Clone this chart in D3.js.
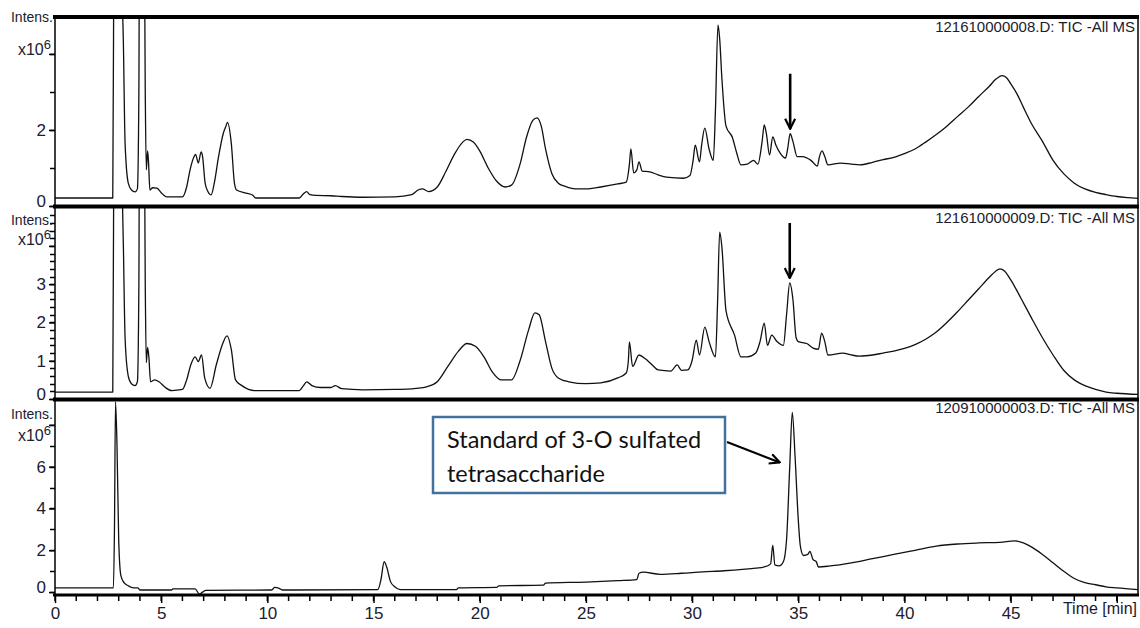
<!DOCTYPE html>
<html lang="en">
<head>
<meta charset="UTF-8">
<title>TIC chromatograms</title>
<script src="https://d3js.org/d3.v7.min.js"></script>
<style>
  body { margin: 0; background: #fff; }
</style>
</head>
<body>
<svg width="1140" height="628"></svg>
<script>
// time [min], intensity [x10^6]
let trace1 = [
  [0, 0.21], [2.72, 0.21], [2.78, 8], [2.85, 12], [3.05, 12], [3.15, 6], [3.22, 4.3], [3.3, 1.66], [3.45, 0.6],
  [3.6, 0.42], [3.77, 0.37], [3.88, 0.45], [3.95, 3], [4.0, 12], [4.15, 12], [4.25, 3], [4.3, 0.95], [4.36, 1.45],
  [4.4, 1.2], [4.47, 0.42], [4.6, 0.48], [4.8, 0.47], [5.0, 0.35], [5.27, 0.24], [6.0, 0.24], [6.2, 0.5],
  [6.36, 0.95], [6.55, 1.3], [6.62, 1.36], [6.75, 1.13], [6.88, 1.42], [6.95, 1.3], [7.07, 0.6], [7.2, 0.38],
  [7.35, 0.29], [7.5, 0.6], [7.7, 1.29], [7.93, 1.92], [8.05, 2.1], [8.12, 2.2], [8.3, 1.66], [8.45, 0.6],
  [8.55, 0.42], [9.0, 0.34], [9.3, 0.29], [9.45, 0.21], [11.5, 0.21], [11.7, 0.32], [11.85, 0.38], [12.0, 0.3],
  [12.3, 0.28], [13.0, 0.27], [13.5, 0.25], [14.5, 0.23], [16.0, 0.24], [16.8, 0.3], [17.1, 0.42], [17.3, 0.45],
  [17.6, 0.38], [18.0, 0.5], [18.4, 0.9], [18.8, 1.35], [19.2, 1.68], [19.4, 1.75], [19.7, 1.68], [20.0, 1.45],
  [20.4, 1.0], [20.8, 0.65], [21.2, 0.5], [21.5, 0.55], [21.9, 1.1], [22.2, 1.8], [22.5, 2.25], [22.7, 2.32],
  [22.9, 2.1], [23.1, 1.5], [23.4, 0.85], [23.7, 0.6], [24.0, 0.52], [24.5, 0.45], [25.0, 0.45], [25.7, 0.5],
  [26.5, 0.58], [26.9, 0.63], [27.05, 1.1], [27.12, 1.5], [27.25, 0.87], [27.4, 0.95], [27.5, 1.16], [27.65, 0.92],
  [28.0, 0.9], [28.4, 0.82], [28.8, 0.76], [29.6, 0.73], [29.9, 0.8], [30.05, 1.2], [30.15, 1.6], [30.35, 1.16],
  [30.45, 1.6], [30.6, 2.05], [30.8, 1.5], [31.0, 1.2], [31.1, 2.5], [31.22, 4.76], [31.3, 4.4], [31.4, 3.4],
  [31.6, 2.1], [31.9, 1.8], [32.1, 1.4], [32.3, 1.08], [32.6, 1.1], [32.9, 1.2], [33.1, 1.1], [33.3, 1.7],
  [33.4, 2.13], [33.5, 1.9], [33.65, 1.34], [33.8, 1.82], [33.95, 1.6], [34.15, 1.39], [34.4, 1.26], [34.5, 1.5],
  [34.62, 1.9], [34.75, 1.7], [34.95, 1.3], [35.2, 1.3], [35.6, 1.2], [35.9, 1.05], [36.0, 1.3], [36.12, 1.45],
  [36.25, 1.3], [36.4, 1.08], [37.0, 1.13], [37.5, 1.1], [37.9, 1.08], [38.5, 1.15], [39.0, 1.22], [39.5, 1.28],
  [40.0, 1.38], [40.5, 1.5], [41.0, 1.68], [41.5, 1.88], [42.0, 2.1], [42.5, 2.35], [43.0, 2.6], [43.5, 2.88],
  [44.0, 3.15], [44.3, 3.33], [44.6, 3.43], [44.8, 3.38], [45.0, 3.22], [45.3, 2.95], [45.6, 2.6], [46.0, 2.15],
  [46.5, 1.7], [47.0, 1.2], [47.5, 0.85], [48.0, 0.6], [48.5, 0.45], [49.0, 0.36], [49.5, 0.3], [50.0, 0.25],
  [50.5, 0.22], [51, 0.2]
]
let trace2 = [
  [0, 0.18], [2.72, 0.18], [2.78, 8], [2.85, 12], [3.05, 12], [3.15, 6], [3.22, 4], [3.3, 1.6], [3.45, 0.6],
  [3.6, 0.4], [3.77, 0.35], [3.88, 0.45], [3.95, 3], [4.0, 12], [4.15, 12], [4.25, 3], [4.3, 0.95], [4.36, 1.35],
  [4.42, 1.1], [4.5, 0.45], [4.7, 0.5], [4.9, 0.45], [5.2, 0.3], [5.5, 0.22], [6.0, 0.25], [6.2, 0.5], [6.4, 0.9],
  [6.6, 1.1], [6.75, 0.98], [6.9, 1.15], [7.05, 0.55], [7.3, 0.28], [7.6, 0.9], [7.9, 1.45], [8.1, 1.65],
  [8.3, 1.3], [8.5, 0.5], [8.8, 0.35], [9.4, 0.22], [11.5, 0.22], [11.7, 0.35], [11.85, 0.45], [12.1, 0.35],
  [12.5, 0.3], [13.0, 0.3], [13.2, 0.35], [13.5, 0.27], [14.5, 0.24], [16.0, 0.25], [17.0, 0.28], [17.5, 0.32],
  [18.0, 0.45], [18.5, 0.85], [19.0, 1.25], [19.4, 1.45], [19.8, 1.38], [20.2, 1.1], [20.6, 0.7], [21.0, 0.5],
  [21.5, 0.5], [21.9, 1.0], [22.3, 1.8], [22.6, 2.25], [22.8, 2.2], [23.1, 1.5], [23.4, 0.8], [23.7, 0.55],
  [24.2, 0.45], [25.0, 0.4], [25.7, 0.42], [26.5, 0.55], [26.9, 0.68], [27.0, 1.0], [27.05, 1.49], [27.2, 0.85],
  [27.5, 1.15], [27.8, 1.05], [28.1, 0.9], [28.4, 0.76], [29.0, 0.73], [29.3, 0.89], [29.5, 0.75], [29.8, 0.76],
  [30.0, 1.0], [30.2, 1.54], [30.35, 1.15], [30.6, 1.88], [30.8, 1.5], [31.1, 1.1], [31.2, 2.5], [31.3, 4.36],
  [31.4, 4.0], [31.6, 2.3], [32.0, 1.67], [32.3, 1.1], [32.6, 1.1], [33.0, 1.2], [33.2, 1.5], [33.4, 1.98],
  [33.55, 1.4], [33.75, 1.67], [34.0, 1.5], [34.3, 1.4], [34.45, 2.2], [34.6, 3.03], [34.75, 2.6], [34.9, 1.6],
  [35.0, 1.5], [35.4, 1.45], [35.7, 1.33], [35.95, 1.3], [36.1, 1.72], [36.25, 1.5], [36.4, 1.15], [37.1, 1.2],
  [37.5, 1.15], [37.9, 1.12], [38.5, 1.15], [39.0, 1.2], [39.5, 1.25], [40.0, 1.32], [40.5, 1.42], [41.0, 1.56],
  [41.5, 1.75], [42.0, 2.0], [42.5, 2.28], [43.0, 2.58], [43.5, 2.88], [44.0, 3.18], [44.3, 3.34], [44.5, 3.4],
  [44.7, 3.35], [45.0, 3.12], [45.5, 2.62], [46.0, 2.1], [46.5, 1.6], [47.0, 1.15], [47.5, 0.75], [48.0, 0.5],
  [48.5, 0.35], [49.0, 0.25], [49.5, 0.18], [50.0, 0.15], [51, 0.12]
]
let trace3 = [
  [0, 0.2], [2.75, 0.2], [2.8, 3], [2.85, 9.1], [2.92, 7], [3.0, 2.5], [3.1, 0.8], [3.25, 0.45], [3.45, 0.3],
  [3.7, 0.2], [3.9, 0.2], [4.0, 0.1], [5.5, 0.1], [5.55, 0.15], [6.6, 0.15], [6.8, -0.1], [6.95, 0.0], [7.1, 0.08],
  [10.2, 0.1], [10.35, 0.22], [10.55, 0.18], [10.7, 0.1], [15.2, 0.12], [15.35, 0.6], [15.5, 1.45], [15.62, 1.2],
  [15.8, 0.5], [16.0, 0.25], [16.25, 0.12], [18.9, 0.12], [19.0, 0.2], [20.8, 0.22], [20.9, 0.3], [23.0, 0.33],
  [23.1, 0.43], [25.0, 0.48], [26.5, 0.55], [27.4, 0.6], [27.5, 0.9], [27.7, 0.95], [28.5, 0.85], [29.5, 0.9],
  [30.5, 0.97], [31.5, 1.02], [32.5, 1.1], [33.0, 1.15], [33.4, 1.2], [33.7, 1.35], [33.8, 2.25], [33.9, 1.3],
  [34.1, 1.25], [34.3, 1.45], [34.45, 2.5], [34.6, 6.0], [34.72, 8.6], [34.85, 6.5], [35.0, 3.5], [35.1, 2.2],
  [35.25, 1.75], [35.45, 1.8], [35.55, 1.95], [35.7, 1.55], [35.85, 1.45], [35.95, 1.2], [36.5, 1.25], [37.5, 1.4],
  [38.5, 1.6], [39.5, 1.8], [40.5, 2.0], [41.5, 2.2], [42.5, 2.3], [43.5, 2.35], [44.5, 2.38], [45.2, 2.45],
  [45.6, 2.35], [46.0, 2.15], [46.5, 1.8], [47.0, 1.4], [47.5, 1.0], [48.0, 0.65], [48.5, 0.45], [49.0, 0.35],
  [49.5, 0.25], [50.0, 0.2], [51, 0.12]
]
let traceNames = ['121610000008.D: TIC -All MS', '121610000009.D: TIC -All MS', '120910000003.D: TIC -All MS']
let xTicks = [0, 5, 10, 15, 20, 25, 30, 35, 40, 45, 50]
let yTicks1 = [0, 2, 4]
let yTicks2 = [0, 1, 2, 3, 4]
let yTicks3 = [0, 2, 4, 6, 8]
let arrowPeaks = [[34.62, 1.9], [34.6, 3.03]]
let noteLines = ['Standard of 3-O sulfated', 'tetrasaccharide']
let notePeak = [34.6, 6.2]

let svg = d3.select('svg')
let narrow = '"Liberation Sans Narrow", "Arial Narrow", sans-serif'
let inkText = '#1b2030'

let x = d3.scaleLinear().domain([0, 51]).range([55, 1138])

let panels = [
  { data: trace1, ticks: yTicks1, minor: d3.range(0, 4.5, 1), y: d3.scaleLinear().domain([0, 4.97]).range([206, 17]),
    top: 17, bottom: 206, intensY: 22, expY: 55, nameY: 32 },
  { data: trace2, ticks: yTicks2, minor: d3.range(0, 4.9, 0.2), y: d3.scaleLinear().domain([0, 4.99]).range([399, 208]),
    top: 208, bottom: 399, intensY: 225, expY: 245, nameY: 223 },
  { data: trace3, ticks: yTicks3, minor: d3.range(0, 8.5, 1), y: d3.scaleLinear().domain([-0.14, 9.14]).range([595, 401]),
    top: 401, bottom: 595, intensY: 419, expY: 441, nameY: 413 }
]

let defs = svg.append('defs')
defs.append('marker').attr('id', 'vhead').attr('viewBox', '0 0 12 12').attr('refX', 11).attr('refY', 6)
  .attr('markerWidth', 12).attr('markerHeight', 12).attr('markerUnits', 'userSpaceOnUse').attr('orient', 'auto')
  .append('path').attr('d', 'M1,1 L11,6 L1,11').attr('fill', 'none').attr('stroke', '#000').attr('stroke-width', 2.2)

panels.forEach((p, i) => {
  defs.append('clipPath').attr('id', 'clip' + i)
    .append('rect').attr('x', 55).attr('y', p.top).attr('width', 1083).attr('height', p.bottom - p.top)

  let line = d3.line().curve(d3.curveMonotoneX).x(d => x(d[0])).y(d => p.y(d[1]))
  svg.append('path').datum(p.data)
    .attr('clip-path', 'url(#clip' + i + ')')
    .attr('d', line)
    .attr('fill', 'none').attr('stroke', '#111').attr('stroke-width', 1.3).attr('stroke-linejoin', 'round')

  // minor ticks
  svg.append('g').selectAll('line').data(p.minor).join('line')
    .attr('x1', 50).attr('x2', 55).attr('y1', d => Math.round(p.y(d)) + 0.5).attr('y2', d => Math.round(p.y(d)) + 0.5)
    .attr('stroke', '#000').attr('stroke-width', 1.5)

  let top = p.ticks[p.ticks.length - 1]
  let ax = svg.append('g').attr('transform', 'translate(55,0)')
    .call(d3.axisLeft(p.y).tickValues(p.ticks).tickSize(6).tickPadding(3).tickFormat(d => d === top ? '' : d))
  ax.select('.domain').remove()
  ax.selectAll('line').attr('stroke-width', 1.5)
  ax.selectAll('text').attr('font-family', narrow).attr('font-size', 17).attr('fill', inkText)
  // the zero label sits on the separator, nudge it up a little
  ax.selectAll('.tick').filter(d => d === 0).select('text').attr('dy', '0.05em')

  svg.append('line').attr('x1', 55).attr('x2', 55).attr('y1', p.top).attr('y2', p.bottom)
    .attr('stroke', '#000').attr('stroke-width', 1.5)

  svg.append('text').attr('x', 53).attr('y', p.intensY).attr('text-anchor', 'end')
    .attr('font-family', narrow).attr('font-size', 14).attr('fill', inkText).text('Intens.')

  let exp = svg.append('text').attr('x', 51).attr('y', p.expY).attr('text-anchor', 'end')
    .attr('font-family', narrow).attr('font-size', 16).attr('fill', inkText)
  exp.append('tspan').text('x10')
  exp.append('tspan').attr('dy', -6).attr('font-size', 13).text('6')

  svg.append('text').attr('x', 1135).attr('y', p.nameY).attr('text-anchor', 'end')
    .attr('font-family', narrow).attr('font-size', 15).attr('fill', inkText).text(traceNames[i])
})

// frame lines
let frame = svg.append('g')
;[17, 206.5, 399.5].forEach(yy => {
  frame.append('line').attr('x1', 53).attr('x2', 1139).attr('y1', yy).attr('y2', yy)
    .attr('stroke', '#000').attr('stroke-width', 4)
})
frame.append('line').attr('x1', 1138).attr('x2', 1138).attr('y1', 17).attr('y2', 595)
  .attr('stroke', '#000').attr('stroke-width', 1.5)

// x axis
svg.append('g').selectAll('line').data(d3.range(0, 51, 1)).join('line')
  .attr('x1', d => x(d)).attr('x2', d => x(d)).attr('y1', 595).attr('y2', 601)
  .attr('stroke', '#000').attr('stroke-width', 1.5)
let xa = svg.append('g').attr('transform', 'translate(0,595)')
  .call(d3.axisBottom(x).tickValues(xTicks).tickSize(8).tickPadding(4).tickFormat(d => d === 50 ? '' : d))
xa.select('.domain').remove()
xa.selectAll('line').attr('stroke-width', 1.5)
xa.selectAll('text').attr('font-family', narrow).attr('font-size', 17).attr('fill', inkText)
svg.append('line').attr('x1', 53).attr('x2', 1139).attr('y1', 595).attr('y2', 595)
  .attr('stroke', '#000').attr('stroke-width', 3)
svg.append('text').attr('x', 1137).attr('y', 614).attr('text-anchor', 'end')
  .attr('font-family', narrow).attr('font-size', 16).attr('fill', inkText).text('Time [min]')

// arrows over the marked peak
arrowPeaks.forEach((a, i) => {
  let p = panels[i]
  let tipY = p.y(a[1]) - 5
  svg.append('line').attr('x1', x(a[0])).attr('x2', x(a[0])).attr('y1', tipY - 55).attr('y2', tipY)
    .attr('stroke', '#000').attr('stroke-width', 2.6).attr('marker-end', 'url(#vhead)')
})

// annotation box
let note = svg.append('g')
note.append('rect').attr('x', 433).attr('y', 417).attr('width', 292).attr('height', 76)
  .attr('fill', '#fff').attr('stroke', '#41719c').attr('stroke-width', 2.5)
note.selectAll('text').data(noteLines).join('text')
  .attr('x', 447).attr('y', (d, i) => 448 + i * 34)
  .attr('font-family', 'Lato, "Open Sans", sans-serif').attr('font-size', 23.5).attr('fill', '#111')
  .text(d => d)
note.append('line').attr('x1', 727).attr('y1', 442).attr('x2', x(notePeak[0]) - 10).attr('y2', panels[2].y(notePeak[1]))
  .attr('stroke', '#000').attr('stroke-width', 2).attr('marker-end', 'url(#vhead)')
</script>
</body>
</html>
